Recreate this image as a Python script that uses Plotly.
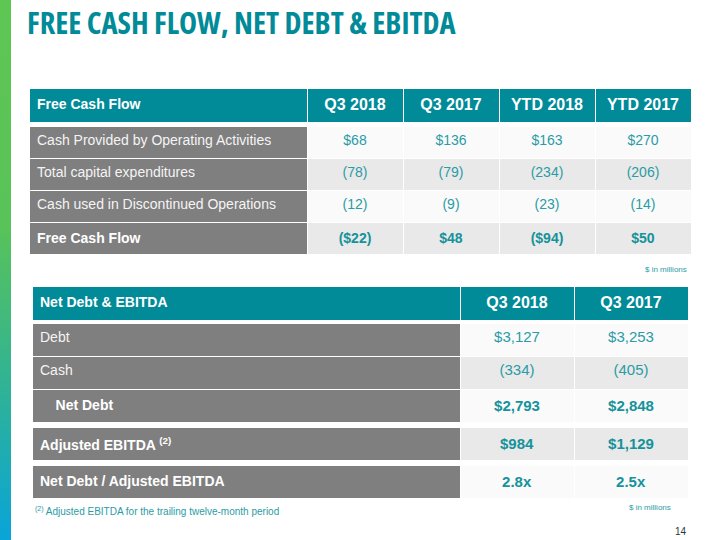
import base64
import plotly.graph_objects as go

W, H = 720, 540

# ---------------- data ----------------
fcf_title = "Free Cash Flow"
fcf_columns = ["Q3 2018", "Q3 2017", "YTD 2018", "YTD 2017"]
fcf_labels = ["Cash Provided by Operating Activities", "Total capital expenditures",
              "Cash used in Discontinued Operations", "Free Cash Flow"]
fcf_q3_2018 = ["$68", "(78)", "(12)", "($22)"]
fcf_q3_2017 = ["$136", "(79)", "(9)", "$48"]
fcf_ytd_2018 = ["$163", "(234)", "(23)", "($94)"]
fcf_ytd_2017 = ["$270", "(206)", "(14)", "$50"]
fcf_bold = [False, False, False, True]

nd_title = "Net Debt & EBITDA"
nd_columns = ["Q3 2018", "Q3 2017"]
nd_labels = ["Debt", "Cash", "\u00a0\u00a0\u00a0\u00a0Net Debt", "Adjusted EBITDA <sup>(2)</sup>",
             "Net Debt / Adjusted EBITDA"]
nd_q3_2018 = ["$3,127", "(334)", "$2,793", "$984", "2.8x"]
nd_q3_2017 = ["$3,253", "(405)", "$2,848", "$1,129", "2.5x"]
nd_bold = [False, False, True, True, True]

# ---------------- style / layout ----------------
TEAL = "#018A97"
VAL = "#2A9CA5"
VAL_B = "#15929B"
GRAY = "#7F7F7F"
LIGHT = "#FAFAFA"
DARK = "#E9E9E9"
FONT = "Liberation Sans, Arial, sans-serif"

fcf_x = (29, 691)
fcf_w = [278, 96, 96, 96, 96]
fcf_hdr_top, fcf_hdr_h = 88, 34
fcf_row_tops = [126, 158, 190, 222]
fcf_row_h = 32

nd_x = (32, 688)
nd_w = [428, 114, 114]
nd_hdr_top, nd_hdr_h = 286, 34
nd_row_tops = [323, 356, 389, 427, 465]
nd_row_h = 33


def b(s, on):
    return f"<b>{s}</b>" if on else s


fig = go.Figure()


def add_row(xr, top, height, texts, fills, fcolors, sizes, widths):
    ncol = len(texts)
    fig.add_trace(go.Table(
        domain=dict(x=[xr[0] / W, xr[1] / W],
                    y=[max(0, 1 - (top + height + 2) / H), 1 - top / H]),
        columnwidth=widths,
        header=dict(
            values=texts,
            fill=dict(color=fills),
            line=dict(color="white", width=1),
            align=["left"] + ["center"] * (ncol - 1),
            font=dict(family=FONT, size=sizes, color=fcolors),
            height=height,
        ),
        cells=dict(values=[[] for _ in range(ncol)]),
    ))


# ---- Free cash flow table ----
add_row(fcf_x, fcf_hdr_top, fcf_hdr_h,
        [b(fcf_title, True)] + [b(c, True) for c in fcf_columns],
        [TEAL] * 5, ["white"] * 5, [14, 16, 16, 16, 16], fcf_w)
fcf_vals = [fcf_q3_2018, fcf_q3_2017, fcf_ytd_2018, fcf_ytd_2017]
for i, lab in enumerate(fcf_labels):
    bo = fcf_bold[i]
    shade = LIGHT if i % 2 == 0 else DARK
    add_row(fcf_x, fcf_row_tops[i], fcf_row_h,
            [b(lab, bo)] + [b(v[i], bo) for v in fcf_vals],
            [GRAY] + [shade] * 4,
            ["white" if bo else "#F4F4F4"] + [VAL_B if bo else VAL] * 4,
            [14] * 5, fcf_w)

# ---- Net debt table ----
add_row(nd_x, nd_hdr_top, nd_hdr_h,
        [b(nd_title, True)] + [b(c, True) for c in nd_columns],
        [TEAL] * 3, ["white"] * 3, [14, 16, 16], nd_w)
for i, lab in enumerate(nd_labels):
    bo = nd_bold[i]
    shade = LIGHT if i % 2 == 0 else DARK
    add_row(nd_x, nd_row_tops[i], nd_row_h,
            [b(lab, bo), b(nd_q3_2018[i], bo), b(nd_q3_2017[i], bo)],
            [GRAY, shade, shade],
            ["white" if bo else "#F4F4F4"] + [VAL_B if bo else VAL] * 2,
            [14, 15, 15], nd_w)

# ---- side gradient bar ----
svg = ('<svg xmlns="http://www.w3.org/2000/svg" width="11" height="540" preserveAspectRatio="none">'
       '<defs><linearGradient id="g" x1="0" y1="0" x2="0" y2="1">'
       '<stop offset="0" stop-color="#5EC653"/><stop offset="0.42" stop-color="#58C359"/>'
       '<stop offset="0.75" stop-color="#2BB19D"/><stop offset="1" stop-color="#09A4D9"/>'
       '</linearGradient></defs><rect width="11" height="540" fill="url(#g)"/></svg>')
uri = "data:image/svg+xml;base64," + base64.b64encode(svg.encode()).decode()
fig.add_layout_image(dict(source=uri, xref="paper", yref="paper", x=0, y=1,
                          sizex=11 / W, sizey=1, sizing="stretch",
                          xanchor="left", yanchor="top", layer="below"))

# ---- title ----
fig.add_annotation(
    text='<span style="font-stretch:condensed"><b>FREE CASH FLOW, NET DEBT &amp; EBITDA</b></span>',
    xref="paper", yref="paper", x=25 / W, y=1 - 22 / H, xanchor="left", yanchor="middle",
    showarrow=False, font=dict(family="Open Sans", size=30.5, color=TEAL))

notes = [
    ("$ in millions", 689, 269, 8, VAL, "right"),
    ("$ in millions", 673, 507, 8, VAL, "right"),
    ("<sup>(2)</sup> Adjusted EBITDA for the trailing twelve-month period", 33, 511, 10, VAL, "left"),
    ("14", 689, 531, 10, "#333333", "right"),
]
for t, x, y, s, c, anc in notes:
    fig.add_annotation(text=t, xref="paper", yref="paper", x=x / W, y=1 - y / H,
                       xanchor=anc, yanchor="middle", showarrow=False,
                       font=dict(family=FONT, size=s, color=c))

fig.update_layout(width=W, height=H, margin=dict(l=0, r=0, t=0, b=0),
                  paper_bgcolor="white", plot_bgcolor="white", showlegend=False)

fig.write_html("out.html", config={"displayModeBar": False},
               post_script="document.body.style.margin='0px';")
